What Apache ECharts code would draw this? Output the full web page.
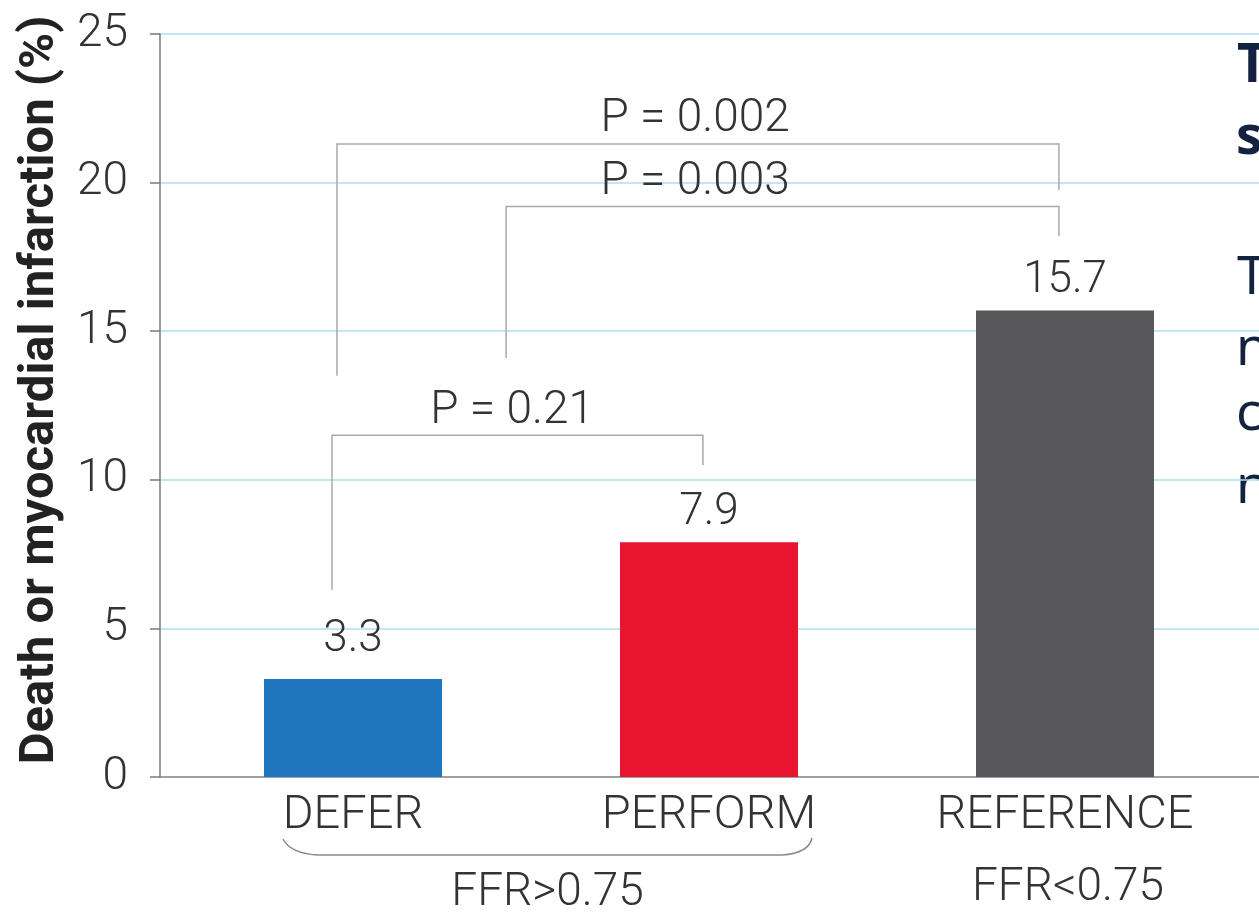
<!DOCTYPE html>
<html>
<head>
<meta charset="utf-8">
<script src="https://cdn.jsdelivr.net/npm/echarts@6/dist/echarts.min.js"></script>
<style>
  html, body { margin: 0; padding: 0; background: #ffffff; }
  #chart { width: 1259px; height: 912px; }
</style>
</head>
<body>
<div id="chart"></div>
<script>
// Groups and their event rates
const categories = ['DEFER', 'PERFORM', 'REFERENCE'];
const eventRates = [3.3, 7.9, 15.7];
const barColors = ['#1e77be', '#e8152f', '#58585a'];

// Value axis range
const yMin = 0;
const yMax = 25;
const yStep = 5;

// Pairwise comparisons: text, then [left x, right x, bracket level, left leg end, right leg end, text x]
const pLabels = ['P = 0.002', 'P = 0.003', 'P = 0.21'];
const pBrackets = [
  [-0.045, 1.983, 21.3, 13.5, 19.75, 0.961],
  [0.430, 1.983, 19.2, 14.1, 18.2, 0.961],
  [-0.059, 0.983, 11.5, 6.3, 10.5, 0.447]
];

// FFR groupings under the category labels: [first category, last category]
const groupLabels = ['FFR>0.75', 'FFR<0.75'];
const groupSpans = [[0, 1], [2, 2]];

const yTitle = 'Death or myocardial infarction (%)';

const FONT = 'Roboto, "DejaVu Sans", sans-serif';
const TEXT = '#333333';

const chart = echarts.init(document.getElementById('chart'), null, { renderer: 'canvas' });

function bracketItem(params, api) {
  const x0 = api.value(0), x1 = api.value(1), lvl = api.value(2);
  const l = api.value(3), r = api.value(4), tx = api.value(5);
  const a = api.coord([x0, l]);
  const b = api.coord([x0, lvl]);
  const c = api.coord([x1, lvl]);
  const d = api.coord([x1, r]);
  const t = api.coord([tx, lvl]);
  return {
    type: 'group',
    children: [
      { type: 'polyline', shape: { points: [a, b, c, d] },
        style: { stroke: '#a9a9a9', lineWidth: 1.5, fill: null } },
      { type: 'text', x: t[0], y: t[1] - 1,
        style: { text: pLabels[params.dataIndex], align: 'center', verticalAlign: 'bottom',
                 font: '300 46px ' + FONT, fill: TEXT } }
    ]
  };
}

function groupItem(params, api) {
  const from = api.value(0), to = api.value(1);
  const p0 = api.coord([from, 0]);
  const p1 = api.coord([to, 0]);
  const base = p0[1];
  const children = [];
  if (to > from) {
    const left = p0[0] - 70, right = p1[0] + 103;
    const yb = base + 78;
    children.push({
      type: 'path',
      shape: {
        pathData: 'M' + left + ' ' + (base + 62) +
          ' Q' + (left + 7) + ' ' + (yb - 2) + ' ' + (left + 34) + ' ' + yb +
          ' L' + (right - 30) + ' ' + yb +
          ' Q' + (right - 3) + ' ' + (yb - 2) + ' ' + right + ' ' + (base + 61)
      },
      style: { stroke: '#8a8a8a', lineWidth: 1.5, fill: null }
    });
    children.push({ type: 'text', x: (left + right) / 2, y: base + 116,
      style: { text: groupLabels[params.dataIndex], align: 'center', verticalAlign: 'middle',
               font: '300 46px ' + FONT, fill: TEXT } });
  } else {
    children.push({ type: 'text', x: p0[0] + 3, y: base + 111,
      style: { text: groupLabels[params.dataIndex], align: 'center', verticalAlign: 'middle',
               font: '300 46px ' + FONT, fill: TEXT } });
  }
  return { type: 'group', children: children };
}

const option = {
  backgroundColor: '#ffffff',
  animation: false,
  grid: [
    { left: 160, right: 0, top: 34, height: 743, containLabel: false, outerBoundsMode: 'none' },
    { left: 175, width: 1068, top: 34, height: 743, containLabel: false, outerBoundsMode: 'none' }
  ],
  xAxis: [
    { type: 'value', gridIndex: 0, min: 0, max: 1,
      axisLine: { show: true, lineStyle: { color: '#8c8c8c', width: 1.5 } },
      axisTick: { show: false }, axisLabel: { show: false }, splitLine: { show: false } },
    { type: 'category', gridIndex: 1, data: categories,
      axisLine: { show: false }, axisTick: { show: false },
      axisLabel: { fontFamily: FONT, fontWeight: 300, fontSize: 47, color: TEXT, margin: 16 },
      splitLine: { show: false } },
    { type: 'value', gridIndex: 1, min: -0.5, max: 2.5, show: false }
  ],
  yAxis: [
    { type: 'value', gridIndex: 0, min: yMin, max: yMax, interval: yStep,
      axisLine: { show: true, lineStyle: { color: '#7a7a7a', width: 1.5 } },
      axisTick: { show: true, length: 10, lineStyle: { color: '#7a7a7a', width: 1.5 } },
      axisLabel: { fontFamily: FONT, fontWeight: 300, fontSize: 46, color: TEXT, margin: 32 },
      splitLine: { show: true, lineStyle: { color: '#addff2', width: 1.5 } } },
    { type: 'value', gridIndex: 1, min: yMin, max: yMax, interval: yStep, show: false,
      splitLine: { show: false } }
  ],
  series: [
    {
      type: 'bar', xAxisIndex: 1, yAxisIndex: 1, barWidth: 178,
      data: eventRates.map(function (v, i) {
        return { value: v, itemStyle: { color: barColors[i] },
                 label: i === 0 ? { distance: 17 } : {} };
      }),
      label: { show: true, position: 'top', distance: 7, fontFamily: FONT, fontWeight: 300,
               fontSize: 44, color: TEXT },
      silent: true
    },
    {
      type: 'custom', xAxisIndex: 2, yAxisIndex: 1, clip: false, silent: true, z: 3,
      data: pBrackets, renderItem: bracketItem
    },
    {
      type: 'custom', xAxisIndex: 2, yAxisIndex: 1, clip: false, silent: true, z: 3,
      data: groupSpans, renderItem: groupItem
    }
  ],
  graphic: [
    { type: 'text', x: 41, y: 390, rotation: Math.PI / 2,
      style: { text: yTitle, align: 'center', verticalAlign: 'middle',
               font: 'bold 49px ' + FONT, fill: '#222222' } },
    // neighbouring slide text running off the right edge
    { type: 'text', x: 1237, y: 67, style: { text: 'T', verticalAlign: 'middle', font: 'bold 53px "Noto Sans", sans-serif', fill: '#13233f' } },
    { type: 'text', x: 1236, y: 139, style: { text: 's', verticalAlign: 'middle', font: 'bold 53px "Noto Sans", sans-serif', fill: '#13233f' } },
    { type: 'text', x: 1237, y: 279, style: { text: 'T', verticalAlign: 'middle', font: '53px "Noto Sans", sans-serif', fill: '#13233f' } },
    { type: 'text', x: 1236, y: 350, style: { text: 'n', verticalAlign: 'middle', font: '53px "Noto Sans", sans-serif', fill: '#13233f' } },
    { type: 'text', x: 1236, y: 415, style: { text: 'c', verticalAlign: 'middle', font: '53px "Noto Sans", sans-serif', fill: '#13233f' } },
    { type: 'text', x: 1236, y: 488, style: { text: 'n', verticalAlign: 'middle', font: '53px "Noto Sans", sans-serif', fill: '#13233f' } }
  ]
};

chart.setOption(option);
</script>
</body>
</html>
